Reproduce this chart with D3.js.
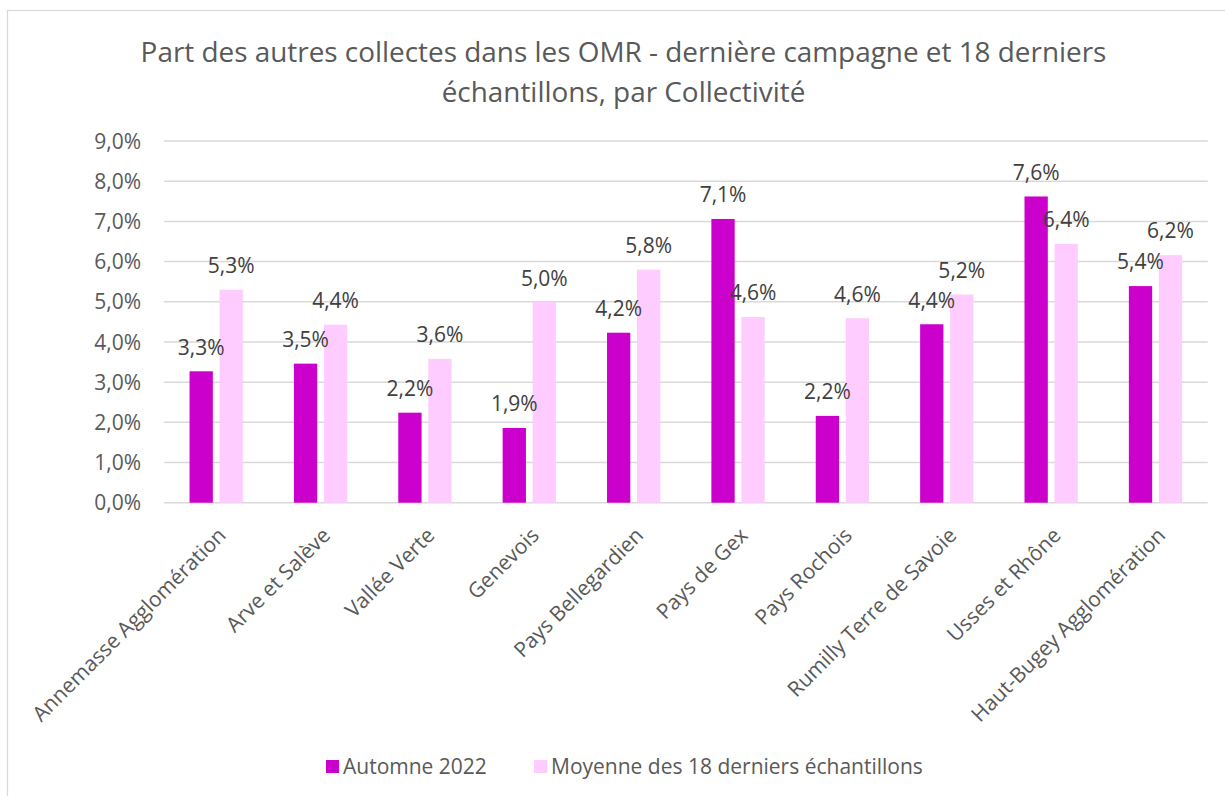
<!DOCTYPE html>
<html>
<head>
<meta charset="utf-8">
<script src="https://cdn.jsdelivr.net/npm/d3@7"></script>
<style>
    body { margin: 0; background: #fff; }
    text { font-family: "Open Sans", "Noto Sans", sans-serif; }
</style>
</head>
<body>
<svg></svg>
<script>
// data (percent values)
var collectivites = ['Annemasse Agglomération', 'Arve et Salève', 'Vallée Verte', 'Genevois', 'Pays Bellegardien',
    'Pays de Gex', 'Pays Rochois', 'Rumilly Terre de Savoie', 'Usses et Rhône', 'Haut-Bugey Agglomération'];
var automne2022 = [3.27, 3.46, 2.24, 1.86, 4.23, 7.06, 2.16, 4.44, 7.62, 5.39];
var moyenne18 = [5.30, 4.43, 3.58, 4.99, 5.80, 4.62, 4.59, 5.18, 6.44, 6.16];
var seriesNames = ['Automne 2022', 'Moyenne des 18 derniers échantillons'];
var yTicks = [0, 1, 2, 3, 4, 5, 6, 7, 8, 9];

var width = 1225,
    height = 796,
    color = ['#CC00CC', '#FFCCFF'],
    fontSize = '21px',
    margin = { left: 164, right: 1207.7, top: 141, bottom: 502.7 };

var svg = d3.select('svg')
    .attr('width', width)
    .attr('height', height);

var locale = d3.formatLocale({ decimal: ',', thousands: ' ', grouping: [3], currency: ['', '€'] });
var fmt = locale.format('.1f');

var x = d3.scaleBand()
    .domain(collectivites)
    .range([margin.left, margin.right]);

var y = d3.scaleLinear()
    .domain([0, 9])
    .range([margin.bottom, margin.top]);

var rows = collectivites.map(function (c, i) {
    return { name: c, values: [automne2022[i], moyenne18[i]] };
});

// outer border of the chart
svg.append('rect')
    .attr('x', 7.5)
    .attr('y', 10.5)
    .attr('width', 1260)
    .attr('height', 820)
    .attr('fill', 'none')
    .attr('stroke', '#d9d9d9')
    .attr('stroke-width', 1.2);

// title
var title = svg.append('text')
    .attr('text-anchor', 'middle')
    .attr('fill', '#595959')
    .style('font-size', '27.9px');
title.append('tspan').attr('x', 623.5).attr('y', 62)
    .text('Part des autres collectes dans les OMR - dernière campagne et 18 derniers');
title.append('tspan').attr('x', 623.5).attr('y', 102)
    .text('échantillons, par Collectivité');

// gridlines
svg.append('g')
    .attr('class', 'grid')
    .selectAll('line')
    .data(yTicks)
    .enter().append('line')
    .attr('x1', margin.left)
    .attr('x2', margin.right)
    .attr('y1', function (d) { return y(d); })
    .attr('y2', function (d) { return y(d); })
    .attr('stroke', '#d9d9d9')
    .attr('stroke-width', 1.5);

// y axis
var yAxis = d3.axisLeft(y)
    .tickValues(yTicks)
    .tickSize(0)
    .tickPadding(23)
    .tickFormat(function (d) { return fmt(d) + '%'; });

svg.append('g')
    .attr('class', 'axis axis-y')
    .attr('transform', 'translate(' + margin.left + ',0)')
    .call(yAxis)
    .call(function (g) { g.select('.domain').remove(); })
    .selectAll('text')
    .attr('fill', '#595959')
    .attr('dy', '0.34em')
    .style('font-size', fontSize)
    .style('font-family', '"Open Sans", sans-serif');

// bars
var barW = 23.3, off = 15;
var group = svg.append('g')
    .attr('class', 'bars')
    .selectAll('.group')
    .data(rows)
    .enter().append('g')
    .attr('class', 'group')
    .attr('transform', function (d) { return 'translate(' + (x(d.name) + x.bandwidth() / 2) + ',0)'; });

group.selectAll('rect')
    .data(function (d) { return d.values; })
    .enter().append('rect')
    .attr('x', function (d, i) { return (i == 0 ? -off : off) - barW / 2; })
    .attr('width', barW)
    .attr('y', function (d) { return y(d); })
    .attr('height', function (d) { return y(0) - y(d); })
    .attr('fill', function (d, i) { return color[i]; });

// data labels
group.selectAll('.label')
    .data(function (d) { return d.values; })
    .enter().append('text')
    .attr('class', 'label')
    .attr('x', function (d, i) { return i == 0 ? -off : off; })
    .attr('y', function (d) { return y(d) - 24; })
    .attr('dy', '0.35em')
    .attr('text-anchor', 'middle')
    .attr('fill', '#404040')
    .style('font-size', fontSize)
    .text(function (d) { return fmt(d) + '%'; });

// x axis labels, rotated
svg.append('g')
    .attr('class', 'axis axis-x')
    .selectAll('text')
    .data(collectivites)
    .enter().append('text')
    .attr('transform', function (d) {
        return 'translate(' + (x(d) + x.bandwidth() / 2 + 11) + ',' + (margin.bottom + 34) + ') rotate(-45)';
    })
    .attr('text-anchor', 'end')
    .attr('fill', '#595959')
    .style('font-size', fontSize)
    .text(function (d) { return d; });

// legend
var legendX = [326, 534];
var ledgend = svg.append('g')
    .attr('class', 'ledgend')
    .selectAll('.li')
    .data(seriesNames)
    .enter().append('g')
    .attr('class', 'li')
    .attr('transform', function (d, i) { return 'translate(' + legendX[i] + ',760)'; });

ledgend.append('rect')
    .attr('width', 13)
    .attr('height', 13)
    .attr('fill', function (d, i) { return color[i]; });

ledgend.append('text')
    .attr('x', 17)
    .attr('y', 6.5)
    .attr('dy', '0.35em')
    .attr('fill', '#595959')
    .style('font-size', fontSize)
    .text(function (d) { return d; });
</script>
</body>
</html>
